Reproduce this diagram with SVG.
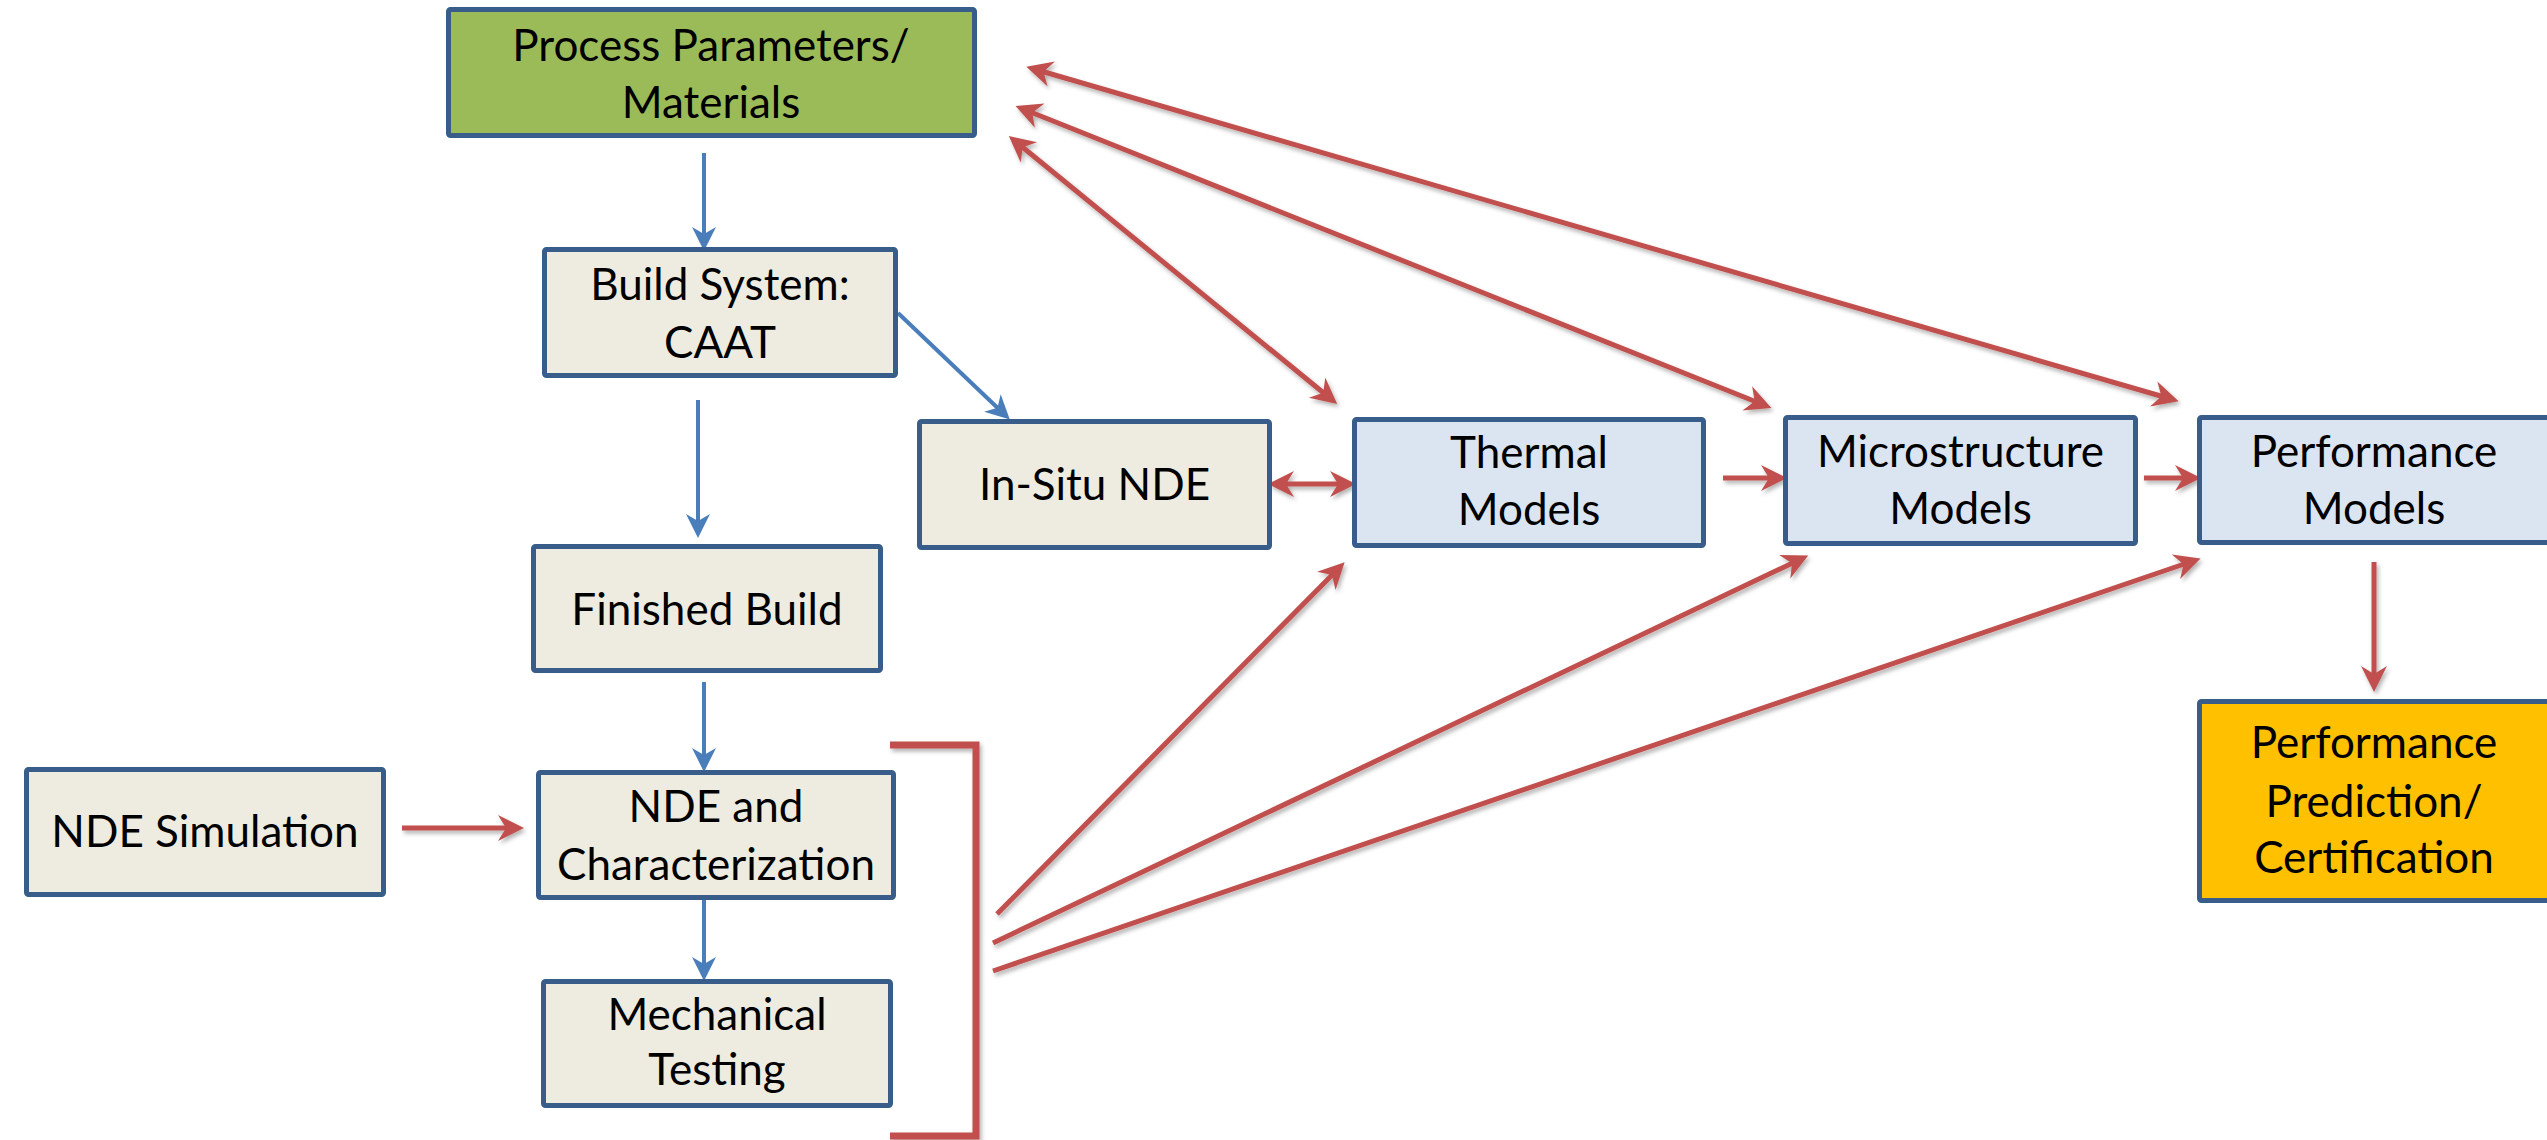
<svg xmlns="http://www.w3.org/2000/svg" width="2547" height="1140" viewBox="0 0 2547 1140">
<style>
.box{stroke:#385D8A;stroke-width:5;stroke-linejoin:round}
.green{fill:#9BBB59}
.beige{fill:#EEECE1}
.lblue{fill:#DBE5F1}
.orange{fill:#FFC000}
.t{font-family:Lato,"Open Sans",sans-serif;font-size:44px;fill:#000;text-anchor:middle}
.blue{stroke:#4A7EBB;stroke-width:4;fill:none}
.red{stroke:#C0504D;stroke-width:5;fill:none}
</style>
<defs>
<filter id="sh" x="-20%" y="-20%" width="140%" height="140%">
<feDropShadow dx="2" dy="3" stdDeviation="2" flood-color="#000" flood-opacity="0.3"/>
</filter>
<marker id="ra" viewBox="-28 -15 36 30" refX="-4" refY="0" markerWidth="36" markerHeight="30" markerUnits="userSpaceOnUse" orient="auto-start-reverse">
<path d="M4,0 L-22,-13 L-14,0 L-22,13 Z" fill="#C0504D"/>
</marker>
<marker id="ba" viewBox="-26 -14 32 28" refX="-4" refY="0" markerWidth="32" markerHeight="28" markerUnits="userSpaceOnUse" orient="auto">
<path d="M4,0 L-20,-12 L-13,0 L-20,12 Z" fill="#4A7EBB"/>
</marker>
</defs>
<rect width="2547" height="1140" fill="#fff"/>

<g id="connectors">
<g id="blue-arrows">
<line class="blue" x1="704" y1="153" x2="704" y2="243" marker-end="url(#ba)"/>
<line class="blue" x1="898" y1="313" x2="1004" y2="414" marker-end="url(#ba)"/>
<line class="blue" x1="698" y1="400" x2="698" y2="530" marker-end="url(#ba)"/>
<line class="blue" x1="704" y1="682" x2="704" y2="764" marker-end="url(#ba)"/>
<line class="blue" x1="704" y1="900" x2="704" y2="973" marker-end="url(#ba)"/>
</g>
<g id="red-arrows" filter="url(#sh)">
<line class="red" x1="402" y1="828" x2="516" y2="828" marker-end="url(#ra)"/>
<line class="red" x1="1276" y1="484" x2="1348" y2="484" marker-start="url(#ra)" marker-end="url(#ra)"/>
<line class="red" x1="1723" y1="478" x2="1779" y2="478" marker-end="url(#ra)"/>
<line class="red" x1="2144" y1="478" x2="2193" y2="478" marker-end="url(#ra)"/>
<line class="red" x1="2374" y1="562" x2="2374" y2="684" marker-end="url(#ra)"/>
<line class="red" x1="1015" y1="141" x2="1331" y2="399" marker-start="url(#ra)" marker-end="url(#ra)"/>
<line class="red" x1="1023" y1="109" x2="1764" y2="405" marker-start="url(#ra)" marker-end="url(#ra)"/>
<line class="red" x1="1034" y1="69" x2="2171" y2="399" marker-start="url(#ra)" marker-end="url(#ra)"/>
<line class="red" x1="997" y1="914" x2="1339" y2="568" marker-end="url(#ra)"/>
<line class="red" x1="993" y1="943" x2="1801" y2="559" marker-end="url(#ra)"/>
<line class="red" x1="993" y1="971" x2="2193" y2="561" marker-end="url(#ra)"/>
<polyline id="bracket" points="890,745 976,745 976,1136 890,1136" fill="none" stroke="#C0504D" stroke-width="7"/>
</g>
</g>

<g id="n-process">
<rect class="box green" x="448.5" y="9.5" width="526" height="126" rx="2"/>
<text class="t" x="711" y="61">Process Parameters/</text>
<text class="t" x="711" y="118">Materials</text>
</g>
<g id="n-build">
<rect class="box beige" x="544.5" y="249.5" width="351" height="126" rx="2"/>
<text class="t" x="720" y="300">Build System:</text>
<text class="t" x="720" y="358">CAAT</text>
</g>
<g id="n-insitu">
<rect class="box beige" x="919.5" y="421.5" width="350" height="126" rx="2"/>
<text class="t" x="1094.5" y="500">In-Situ NDE</text>
</g>
<g id="n-thermal">
<rect class="box lblue" x="1354.5" y="419.5" width="349" height="126" rx="2"/>
<text class="t" x="1529" y="468">Thermal</text>
<text class="t" x="1529" y="525">Models</text>
</g>
<g id="n-micro">
<rect class="box lblue" x="1785.5" y="417.5" width="350" height="126" rx="2"/>
<text class="t" x="1960.5" y="467">Microstructure</text>
<text class="t" x="1960.5" y="524">Models</text>
</g>
<g id="n-perf">
<rect class="box lblue" x="2199.5" y="417.5" width="360" height="125" rx="2"/>
<text class="t" x="2374" y="467">Performance</text>
<text class="t" x="2374" y="524">Models</text>
</g>
<g id="n-pred">
<rect class="box orange" x="2199.5" y="701.5" width="360" height="199" rx="2"/>
<text class="t" x="2374" y="758">Performance</text>
<text class="t" x="2374" y="817">Prediction/</text>
<text class="t" x="2374" y="873">Certification</text>
</g>
<g id="n-finished">
<rect class="box beige" x="533.5" y="546.5" width="347" height="124" rx="2"/>
<text class="t" x="707" y="625">Finished Build</text>
</g>
<g id="n-ndesim">
<rect class="box beige" x="26.5" y="769.5" width="357" height="125" rx="2"/>
<text class="t" x="205" y="847">NDE Simulation</text>
</g>
<g id="n-ndechar">
<rect class="box beige" x="538.5" y="772.5" width="355" height="125" rx="2"/>
<text class="t" x="716" y="822">NDE and</text>
<text class="t" x="716" y="880">Characterization</text>
</g>
<g id="n-mech">
<rect class="box beige" x="543.5" y="981.5" width="347" height="124" rx="2"/>
<text class="t" x="717" y="1030">Mechanical</text>
<text class="t" x="717" y="1085">Testing</text>
</g>
</svg>
